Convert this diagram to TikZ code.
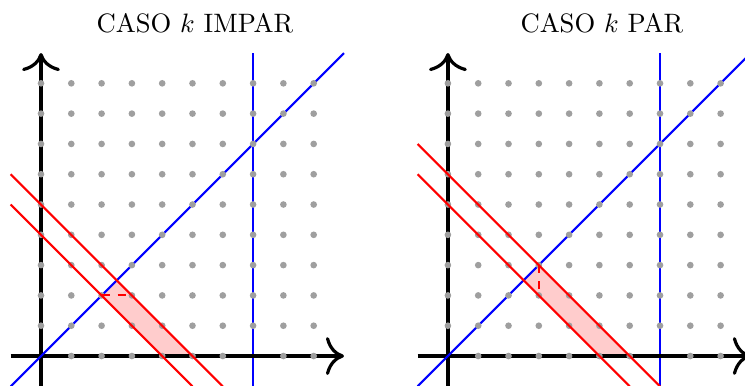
\documentclass[tikz,border=0pt]{standalone}
\usetikzlibrary{arrows.meta}
\tikzset{
  axisline/.style={very thick,-{To[scale=1.6]}},
  bluel/.style={blue,thick},
  redl/.style={red,thick},
  latdot/.style={fill=gray!75},
  band/.style={fill=red!20},
  ttl/.style={anchor=base,inner sep=0pt}
}
\begin{document}
\begin{tikzpicture}[x=0.4cm,y=0.4cm]
\useasboundingbox (-1.353,-0.957) rectangle (23.235,11.75);
\clip (-1.353,-0.957) rectangle (23.235,11.75);
% ---------- left panel ----------
\begin{scope}
  \fill[band] (2,2) -- (2.5,2.5) -- (5,0) -- (4,0) -- cycle;
  \draw[bluel] (7,-1) -- (7,10);
  \draw[axisline] (-1,0) -- (10,0);
  \draw[axisline] (0,-1) -- (0,10);
  \draw[bluel] (-1,-1) -- (10,10);
  \foreach \i in {0,...,9}{\foreach \j in {1,...,9}{\fill[latdot] (\i,\j) circle (1.25pt);}}
  \foreach \i in {1,...,6,8,9}{\fill[latdot] (\i,0) circle (1.25pt);}
  \draw[redl] (-1,5) -- (5,-1);
  \draw[redl] (-1,6) -- (6,-1);
  \coordinate (la) at (2,2);
  \coordinate (lb) at (3,2);
  \draw[redl,dashed] (la) -- (lb);
  \node[ttl] (t1) at (5.08,10.67) {CASO $k$ IMPAR};
\end{scope}
% ---------- right panel ----------
\begin{scope}[xshift=13.43*0.4cm]
  \fill[band] (2.5,2.5) -- (3,3) -- (6,0) -- (5,0) -- cycle;
  \draw[bluel] (7,-1) -- (7,10);
  \draw[axisline] (-1,0) -- (10,0);
  \draw[axisline] (0,-1) -- (0,10);
  \draw[bluel] (-1,-1) -- (10,10);
  \foreach \i in {0,...,9}{\foreach \j in {1,...,9}{\fill[latdot] (\i,\j) circle (1.25pt);}}
  \foreach \i in {1,...,6,8,9}{\fill[latdot] (\i,0) circle (1.25pt);}
  \draw[redl] (-1,6) -- (6,-1);
  \draw[redl] (-1,7) -- (7,-1);
  \coordinate (ra) at (3,3);
  \coordinate (rb) at (3,2);
  \draw[redl,dashed] (ra) -- (rb);
  \node[ttl] (t2) at (5.08,10.67) {CASO $k$ PAR};
\end{scope}
\end{tikzpicture}
\end{document}
